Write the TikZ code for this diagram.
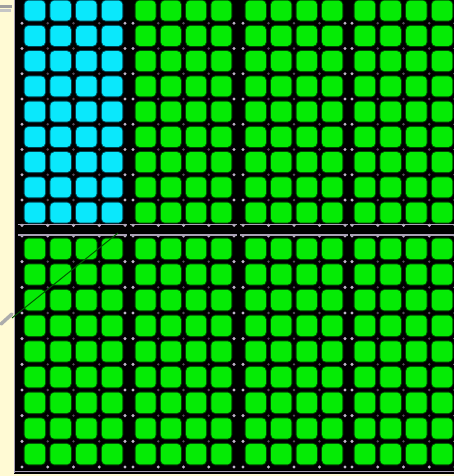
\documentclass[tikz,border=0pt]{standalone}
\definecolor{cream}{RGB}{255,250,212}
\definecolor{cellgreen}{RGB}{5,235,5}
\definecolor{glowgreen}{RGB}{0,70,0}
\definecolor{cellcyan}{RGB}{10,232,252}
\definecolor{glowcyan}{RGB}{0,65,80}
\definecolor{dotlight}{RGB}{190,180,200}
\definecolor{dotdark}{RGB}{85,75,90}
\definecolor{edgegray}{RGB}{170,162,182}
\definecolor{penline}{RGB}{0,90,0}
\newcommand\drawcells[6]{%
  \foreach \c in {0,...,3}{\foreach \r in {0,...,8}{%
    \pgfmathsetmacro\xa{#1+\c*(#2-#1)/4}%
    \pgfmathsetmacro\xb{#1+(\c+1)*(#2-#1)/4}%
    \pgfmathsetmacro\ya{#3+\r*(#4-#3)/9}%
    \pgfmathsetmacro\yb{#3+(\r+1)*(#4-#3)/9}%
    \fill[#6, rounded corners=5pt] (\xa+1.6,\ya+1.6) rectangle (\xb-1.6,\yb-1.6);
    \fill[#5, rounded corners=4pt] (\xa+2.6,\ya+2.6) rectangle (\xb-2.6,\yb-2.6);
  }}%
  \foreach \c in {0,...,4}{\foreach \r in {0,...,9}{%
    \pgfmathsetmacro\xa{#1+\c*(#2-#1)/4}%
    \pgfmathsetmacro\ya{#3+\r*(#4-#3)/9}%
    \pgfmathtruncatemacro\edge{(\c==0)||(\c==4)||(\r==0)||(\r==9)}%
    \ifnum\edge=1
      \fill[dotlight] (\xa,\ya) circle (1.7);
    \else
      \fill[dotdark] (\xa,\ya) circle (1.3);
    \fi
  }}%
}
\begin{document}
\begin{tikzpicture}[x=1pt,y=-1pt]
\useasboundingbox (0,0) rectangle (454,476);
\fill[black] (0,0) rectangle (454,476);
% top half
\drawcells{22}{125}{-2}{225.3}{cellcyan}{glowcyan}
\drawcells{133}{234}{-2}{225.3}{cellgreen}{glowgreen}
\drawcells{243}{345}{-2}{225.3}{cellgreen}{glowgreen}
\drawcells{352}{455}{-2}{225.3}{cellgreen}{glowgreen}
% bottom half
\drawcells{22}{125}{236}{467}{cellgreen}{glowgreen}
\drawcells{133}{234}{236}{467}{cellgreen}{glowgreen}
\drawcells{243}{345}{236}{467}{cellgreen}{glowgreen}
\drawcells{352}{455}{236}{467}{cellgreen}{glowgreen}
% gray separator lines between halves
\foreach \L/\R in {18/127,130/237,240/348,350/454}{
  \draw[edgegray, line width=1pt] (\L,224.8) -- (\R,224.8);
  \draw[edgegray, line width=2.2pt] (\L,234.8) -- (\R,234.8);
}
% bottom edge
\draw[edgegray, line width=1.4pt] (14,471.5) -- (454,471.5);
% left cream strip
\fill[cream] (0,0) rectangle (14,476);
\fill[cream] (0,473.5) rectangle (454,476);
\draw[edgegray, line width=0.8pt] (14.4,0) -- (14.4,473);
% small marks top left
\fill[gray!75] (0,5) rectangle (12,8);
\fill[gray!45] (0,9) rectangle (11,12);
% diagonal pen line
\draw[penline, line width=1pt] (12,318) -- (118,233);
\draw[gray!65, line width=3.5pt, line cap=round] (1,324) -- (12,314);
\end{tikzpicture}
\end{document}
